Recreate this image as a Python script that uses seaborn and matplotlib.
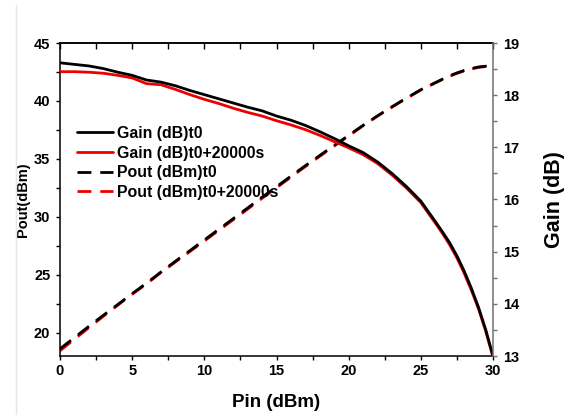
import matplotlib
matplotlib.use('Agg')
import matplotlib.pyplot as plt
import seaborn as sns
from matplotlib.ticker import MultipleLocator
from matplotlib.lines import Line2D

# ---- data ----
pin = [0, 1, 2, 3, 4, 5, 6, 7, 8, 9, 10, 11, 12, 13, 14, 15, 16, 17, 18, 19,
       20, 21, 22, 23, 24, 25, 26, 26.5, 27, 27.5, 28, 28.5, 29, 29.5, 30]
gain_t0 = [18.62, 18.59, 18.56, 18.51, 18.44, 18.38, 18.29, 18.25, 18.18, 18.09,
           18.01, 17.93, 17.85, 17.77, 17.70, 17.60, 17.52, 17.42, 17.30, 17.17,
           17.03, 16.90, 16.72, 16.50, 16.25, 15.97, 15.58, 15.38, 15.17, 14.92,
           14.63, 14.30, 13.93, 13.50, 13.00]
gain_t1 = [18.45, 18.45, 18.44, 18.42, 18.38, 18.33, 18.22, 18.20, 18.11, 18.01,
           17.92, 17.84, 17.75, 17.67, 17.60, 17.51, 17.43, 17.34, 17.23, 17.11,
           16.99, 16.86, 16.69, 16.47, 16.22, 15.94, 15.55, 15.35, 15.13, 14.88,
           14.59, 14.26, 13.90, 13.47, 12.98]
pout_t0 = [18.62, 19.59, 20.56, 21.51, 22.44, 23.38, 24.29, 25.25, 26.18, 27.09,
           28.01, 28.93, 29.85, 30.77, 31.70, 32.60, 33.52, 34.42, 35.30, 36.17,
           37.03, 37.90, 38.72, 39.50, 40.25, 40.97, 41.58, 41.88, 42.17, 42.42,
           42.63, 42.80, 42.93, 43.00, 43.00]
pout_t1 = [18.45, 19.45, 20.44, 21.42, 22.38, 23.33, 24.22, 25.20, 26.11, 27.01,
           27.92, 28.84, 29.75, 30.67, 31.60, 32.51, 33.43, 34.34, 35.23, 36.11,
           36.99, 37.86, 38.69, 39.47, 40.22, 40.94, 41.55, 41.85, 42.13, 42.38,
           42.59, 42.76, 42.90, 42.97, 42.98]
labels = ['Gain (dB)t0', 'Gain (dB)t0+20000s', 'Pout (dBm)t0', 'Pout (dBm)t0+20000s']

sns.set_theme(style='ticks')
plt.rcParams['font.family'] = ['Liberation Sans', 'DejaVu Sans']
plt.rcParams['font.weight'] = 'bold'
plt.rcParams['text.color'] = 'black'
plt.rcParams['axes.labelcolor'] = 'black'
plt.rcParams['xtick.color'] = 'black'
plt.rcParams['ytick.color'] = 'black'
plt.rcParams['axes.edgecolor'] = 'black'

RED = '#ee0000'
BLK = '#000000'
DASH = (0, (5, 3.2))

fig = plt.figure(figsize=(5.69, 4.15), dpi=100)
fig.add_artist(Line2D([16 / 569, 16 / 569], [0, 410 / 415], color='#e6e6e6', lw=1))
ax = fig.add_axes([60 / 569, 1 - 356 / 415, 433 / 569, 313 / 415])
ax2 = ax.twinx()

sns.lineplot(x=pin, y=pout_t1, ax=ax, color=RED, lw=2, linestyle=DASH, legend=False)
h_p1 = ax.lines[-1]
sns.lineplot(x=pin, y=pout_t0, ax=ax, color=BLK, lw=2, linestyle=DASH, legend=False)
h_p0 = ax.lines[-1]
sns.lineplot(x=pin, y=gain_t1, ax=ax2, color=RED, lw=2, legend=False)
h_g1 = ax2.lines[-1]
sns.lineplot(x=pin, y=gain_t0, ax=ax2, color=BLK, lw=2, legend=False)
h_g0 = ax2.lines[-1]

ax.set_xlim(0, 30)
ax.set_ylim(18, 45)
ax2.set_ylim(13, 19)

ax.xaxis.set_major_locator(MultipleLocator(5))
ax.xaxis.set_minor_locator(MultipleLocator(2.5))
ax.yaxis.set_major_locator(MultipleLocator(5))
ax.yaxis.set_minor_locator(MultipleLocator(2.5))
ax2.yaxis.set_major_locator(MultipleLocator(1))
ax2.yaxis.set_minor_locator(MultipleLocator(0.5))

for a in (ax, ax2):
    for s in a.spines.values():
        s.set_linewidth(1.1)
        s.set_color('black')
ax.spines['right'].set_visible(False)
ax2.spines['top'].set_visible(False)
ax2.spines['left'].set_visible(False)
ax2.spines['bottom'].set_visible(False)
ax2.spines['right'].set_color('#707070')

ax.tick_params(axis='both', which='both', direction='out', width=1, colors='black',
               labelsize=10.5, length=3)
ax.tick_params(axis='x', pad=3)
ax.tick_params(axis='y', pad=4)
ax2.tick_params(axis='y', which='both', direction='out', width=1, length=3,
                color='#707070', labelcolor='black', labelsize=10.5, pad=4)

top = ax.secondary_xaxis('top')
top.xaxis.set_major_locator(MultipleLocator(2.5))
top.tick_params(direction='in', length=4, width=1, labeltop=False, color='black')
top.spines['top'].set_linewidth(1.1)
top.spines['top'].set_color('black')

for t in ax.get_xticklabels() + ax.get_yticklabels() + ax2.get_yticklabels():
    t.set_fontweight('bold')
    t.set_color('black')

ax.set_xlabel('Pin (dBm)', fontsize=13.5, fontweight='bold', labelpad=11, color='black')
ax.set_ylabel('Pout(dBm)', fontsize=10.5, fontweight='bold', labelpad=3, color='black')
ax2.set_ylabel('Gain (dB)', fontsize=15.5, fontweight='bold', labelpad=18, color='black')

leg = ax2.legend([h_g0, h_g1, h_p0, h_p1], labels, loc='center left',
                 bbox_to_anchor=(17 / 433, 0.617), frameon=False,
                 prop={'size': 11.4, 'weight': 'bold'}, handlelength=2.3,
                 handletextpad=0.25, labelspacing=0.3, borderpad=0, borderaxespad=0)
for t in leg.get_texts():
    t.set_color('black')

fig.savefig('out.png', dpi=100)
